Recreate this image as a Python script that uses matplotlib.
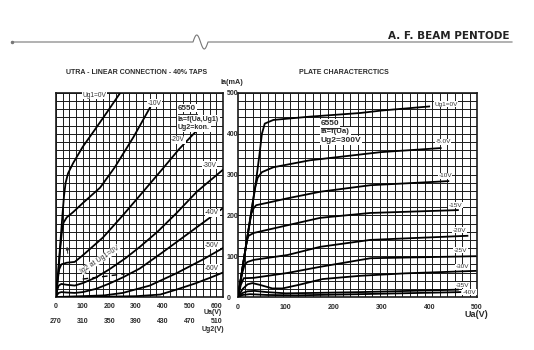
import numpy as np
import matplotlib
matplotlib.use("Agg")
import matplotlib.pyplot as plt
from matplotlib.ticker import MultipleLocator

plt.rcParams["font.family"] = ["Liberation Sans", "DejaVu Sans"]

# ultra-linear connection, Ia = f(Ua, Ug1), Ug2 tracks Ua through the 40% taps
ul_grid_volts = ["Ug1=0V", "-10V", "-20V", "-30V", "-40V", "-50V", "-60V"]
ul_ua = [
    [0, 8, 16, 24, 30, 36, 45, 64, 100, 140, 190, 240],
    [0, 8, 16, 22, 28, 40, 64, 100, 165, 220, 290, 355],
    [0, 6, 12, 20, 40, 70, 100, 176, 250, 322, 400, 460, 527],
    [0, 5, 10, 20, 40, 70, 100, 150, 200, 260, 314, 380, 450, 527, 625],
    [0, 5, 10, 20, 40, 70, 100, 150, 200, 250, 314, 400, 500, 625],
    [0, 100, 180, 250, 351, 450, 550, 625],
    [0, 200, 300, 390, 450, 520, 580, 625],
]
ul_ia = [
    [0, 60, 130, 200, 248, 280, 303, 328, 368, 405, 452, 500],
    [0, 55, 120, 160, 182, 195, 208, 230, 268, 318, 392, 468],
    [0, 40, 68, 80, 84, 86, 102, 146, 200, 255, 315, 362, 408],
    [0, 18, 28, 32, 30, 28, 34, 48, 68, 95, 123, 160, 205, 258, 312],
    [0, 6, 10, 12, 11, 10, 12, 20, 33, 48, 70, 110, 158, 218],
    [0, 2, 4, 10, 28, 58, 92, 120],
    [0, 1, 2, 6, 18, 33, 48, 60],
]
# screen current at Ug1 = 0V
ig2_ua = [100, 150, 200, 258]
ig2_ia = [44, 48, 52, 57]

ua_ticks = [0, 100, 200, 300, 400, 500, 600]
ug2_ticks = [270, 310, 350, 390, 430, 470, 510]
ia_ticks = [0, 100, 200, 300, 400, 500]

# pentode plate characteristics, Ug2 = 300V
pc_grid_volts = ["Ug1=0V", "-5.0V", "-10V", "-15V", "-20V", "-25V", "-30V", "-35V", "-40V"]
pc_ua = [
    [0, 10, 20, 30, 38, 45, 50, 56, 74, 150, 256, 300, 400],
    [0, 10, 20, 30, 36, 41, 50, 74, 150, 298, 424],
    [0, 10, 20, 28, 33, 38, 62, 104, 172, 277, 440],
    [0, 10, 18, 22, 33, 104, 172, 277, 460],
    [0, 8, 14, 20, 33, 104, 172, 277, 480],
    [0, 6, 12, 33, 104, 172, 277, 497],
    [0, 10, 20, 30, 45, 72, 93, 128, 177, 256, 350, 497],
    [0, 10, 20, 35, 60, 100, 160, 256, 460],
    [0, 10, 25, 60, 120, 256, 465],
]
pc_ia = [
    [0, 75, 150, 225, 287, 350, 400, 425, 434, 442, 451, 457, 467],
    [0, 75, 150, 225, 268, 292, 306, 318, 335, 355, 365],
    [0, 75, 150, 205, 218, 225, 231, 242, 258, 274, 284],
    [0, 75, 135, 150, 157, 176, 194, 206, 213],
    [0, 55, 80, 86, 91, 103, 123, 140, 150],
    [0, 30, 46, 47, 59, 74, 95, 100],
    [0, 20, 31, 34, 30, 21, 21, 30, 44, 52, 58, 64],
    [0, 10, 14, 15, 12, 9, 10, 12, 18],
    [0, 5, 7, 5, 4, 7, 12],
]
pc_ua_ticks = [0, 100, 200, 300, 400, 500]

W, H = 534, 350
INK = "#1a1a1a"
TXT = "#2b2b2b"


def box(x0, y0, x1, y1):
    return [x0 / W, 1 - y1 / H, (x1 - x0) / W, (y1 - y0) / H]


def setup_grid(ax, xmax, xstep, xmajor_grid=True):
    ax.set_xlim(0, xmax)
    ax.set_ylim(0, 500)
    ax.xaxis.set_minor_locator(MultipleLocator(xstep))
    ax.yaxis.set_minor_locator(MultipleLocator(20))
    ax.xaxis.grid(True, which="minor", color=INK, lw=0.7)
    if xmajor_grid:
        ax.xaxis.grid(True, which="major", color=INK, lw=0.7)
    else:
        ax.xaxis.grid(False, which="major")
    ax.yaxis.grid(True, which="both", color=INK, lw=0.7)
    ax.set_axisbelow(True)
    ax.tick_params(which="both", length=0)
    for sp in ax.spines.values():
        sp.set_linewidth(1.2)
        sp.set_color(INK)


def curve_label(ax, x, y, s, ha="center", size=4.8):
    ax.text(x, y, s, ha=ha, va="center", fontsize=size, color="#333333",
            bbox=dict(fc="white", ec="none", pad=0.4), zorder=5)


fig = plt.figure(figsize=(W / 100, H / 100), dpi=100)

# header rule with a small wiggle
hax = fig.add_axes([0, 0, 1, 1])
hax.set_xlim(0, W)
hax.set_ylim(H, 0)
hax.axis("off")
t = np.linspace(0, 1, 40)
rule_x = np.concatenate([[12, 193], 193 + 15 * t, [208, 512]])
rule_y = np.concatenate([[42, 42], 42 - 7 * np.sin(2 * np.pi * t), [42, 42]])
hax.plot(rule_x, rule_y, color="#777777", lw=0.8)
hax.plot([12], [42], "o", color="#777777", ms=1.5)
fig.text(510 / W, 1 - 36 / H, "A. F. BEAM PENTODE", ha="right", va="center",
         fontsize=7.5, fontweight="bold", family="DejaVu Sans", color="#222222")
fig.text(137 / W, 1 - 72 / H, "UTRA - LINEAR CONNECTION - 40% TAPS", ha="center",
         va="center", fontsize=5, fontweight="bold", color=TXT)
fig.text(344 / W, 1 - 72 / H, "PLATE CHARACTERCTICS", ha="center", va="center",
         fontsize=5, fontweight="bold", color=TXT)
fig.text(232 / W, 1 - 82 / H, "Ia(mA)", ha="center", va="center", fontsize=5.2,
         fontweight="bold", color=TXT)

# left panel: ultra-linear
ax1 = fig.add_axes(box(56, 93, 223, 297))
setup_grid(ax1, 625, 25)
ax1.set_xticks(ua_ticks, [str(v) for v in ua_ticks], fontsize=5, fontweight="bold", color=TXT)
ax1.yaxis.tick_right()
ax1.set_yticks(ia_ticks, [str(v) for v in ia_ticks], fontsize=5, fontweight="bold", color=TXT)
ax1.tick_params(axis="x", pad=4)
ax1.tick_params(axis="y", pad=2.5)
for ua, ia in zip(ul_ua, ul_ia):
    ax1.plot(ua, ia, color="k", lw=1.3, zorder=3)
ax1.plot(ig2_ua, ig2_ia, color="k", lw=1.0, ls=(0, (4, 3)), zorder=3)

xt = ax1.get_xaxis_transform()
for ua, ug2 in zip(ua_ticks, ug2_ticks):
    ax1.text(ua, -0.118, str(ug2), transform=xt, ha="center", va="center",
             fontsize=5, fontweight="bold", color=TXT)
ax1.text(588, -0.078, "Ua(V)", transform=xt, ha="center", va="center",
         fontsize=5, fontweight="bold", color=TXT)
ax1.text(588, -0.157, "Ug2(V)", transform=xt, ha="center", va="center",
         fontsize=5, fontweight="bold", color=TXT)

ul_label_pos = [(101, 494, "left"), (370, 475, "center"), (457, 385, "center"),
                (576, 323, "center"), (584, 206, "center"), (584, 127, "center"),
                (584, 71, "center")]
for (x, y, ha), s in zip(ul_label_pos, ul_grid_volts):
    curve_label(ax1, x, y, s, ha=ha)

ax1.text(165, 92, "Ig2 at Ug1=0V", rotation=33, ha="center", va="center",
         fontsize=5, color="#333333", zorder=5,
         bbox=dict(fc="white", ec="none", pad=0.2))
ax1.annotate("", xy=(40, 130), xytext=(45, 100),
             arrowprops=dict(arrowstyle="-|>", lw=0.7, color="#333333",
                             mutation_scale=4))

ax1.text(456, 463, "6550", ha="left", va="center", fontsize=5.8, fontweight="bold",
         color=TXT, bbox=dict(fc="white", ec="none", pad=0.6), zorder=5)
ax1.plot([456, 527], [448, 448], color=TXT, lw=0.7, zorder=6)
ax1.text(456, 436, "Ia=f(Ua,Ug1)", ha="left", va="center", fontsize=5,
         fontweight="bold", color=TXT, bbox=dict(fc="white", ec="none", pad=0.6), zorder=5)
ax1.text(456, 416, "Ug2=kon.", ha="left", va="center", fontsize=5,
         fontweight="bold", color=TXT, bbox=dict(fc="white", ec="none", pad=0.6), zorder=5)

# right panel: plate characteristics
ax2 = fig.add_axes(box(238, 93, 477, 297))
setup_grid(ax2, 500, 500 / 32, xmajor_grid=False)
ax2.set_xticks(pc_ua_ticks, [str(v) for v in pc_ua_ticks], fontsize=5, fontweight="bold", color=TXT)
ax2.set_yticks(ia_ticks)
ax2.tick_params(axis="y", labelleft=False)
ax2.tick_params(axis="x", pad=5)
for ua, ia in zip(pc_ua, pc_ia):
    ax2.plot(ua, ia, color="k", lw=1.3, zorder=3)

pc_label_pos = [(411, 473), (413, 380), (419, 297), (440, 225), (449, 164),
                (451, 115), (455, 74), (455, 29), (470, 12)]
for (x, y), s in zip(pc_label_pos, pc_grid_volts):
    curve_label(ax2, x, y, s, ha="left", size=4.6)

ax2.text(499, -0.088, "Ua(V)", transform=ax2.get_xaxis_transform(), ha="center",
         va="center", fontsize=6.5, fontweight="bold", color=TXT)

ax2.text(173, 426, "6550", ha="left", va="center", fontsize=6, fontweight="bold",
         color=TXT, bbox=dict(fc="white", ec="none", pad=0.8), zorder=5)
ax2.plot([173, 213], [413, 413], color=TXT, lw=0.7, zorder=6)
ax2.text(173, 405, "Ia=f(Ua)", ha="left", va="center", fontsize=5.6,
         fontweight="bold", color=TXT, bbox=dict(fc="white", ec="none", pad=0.8), zorder=5)
ax2.text(173, 384, "Ug2=300V", ha="left", va="center", fontsize=6,
         fontweight="bold", color=TXT, bbox=dict(fc="white", ec="none", pad=0.8), zorder=5)

fig.savefig("out.png", dpi=100)
